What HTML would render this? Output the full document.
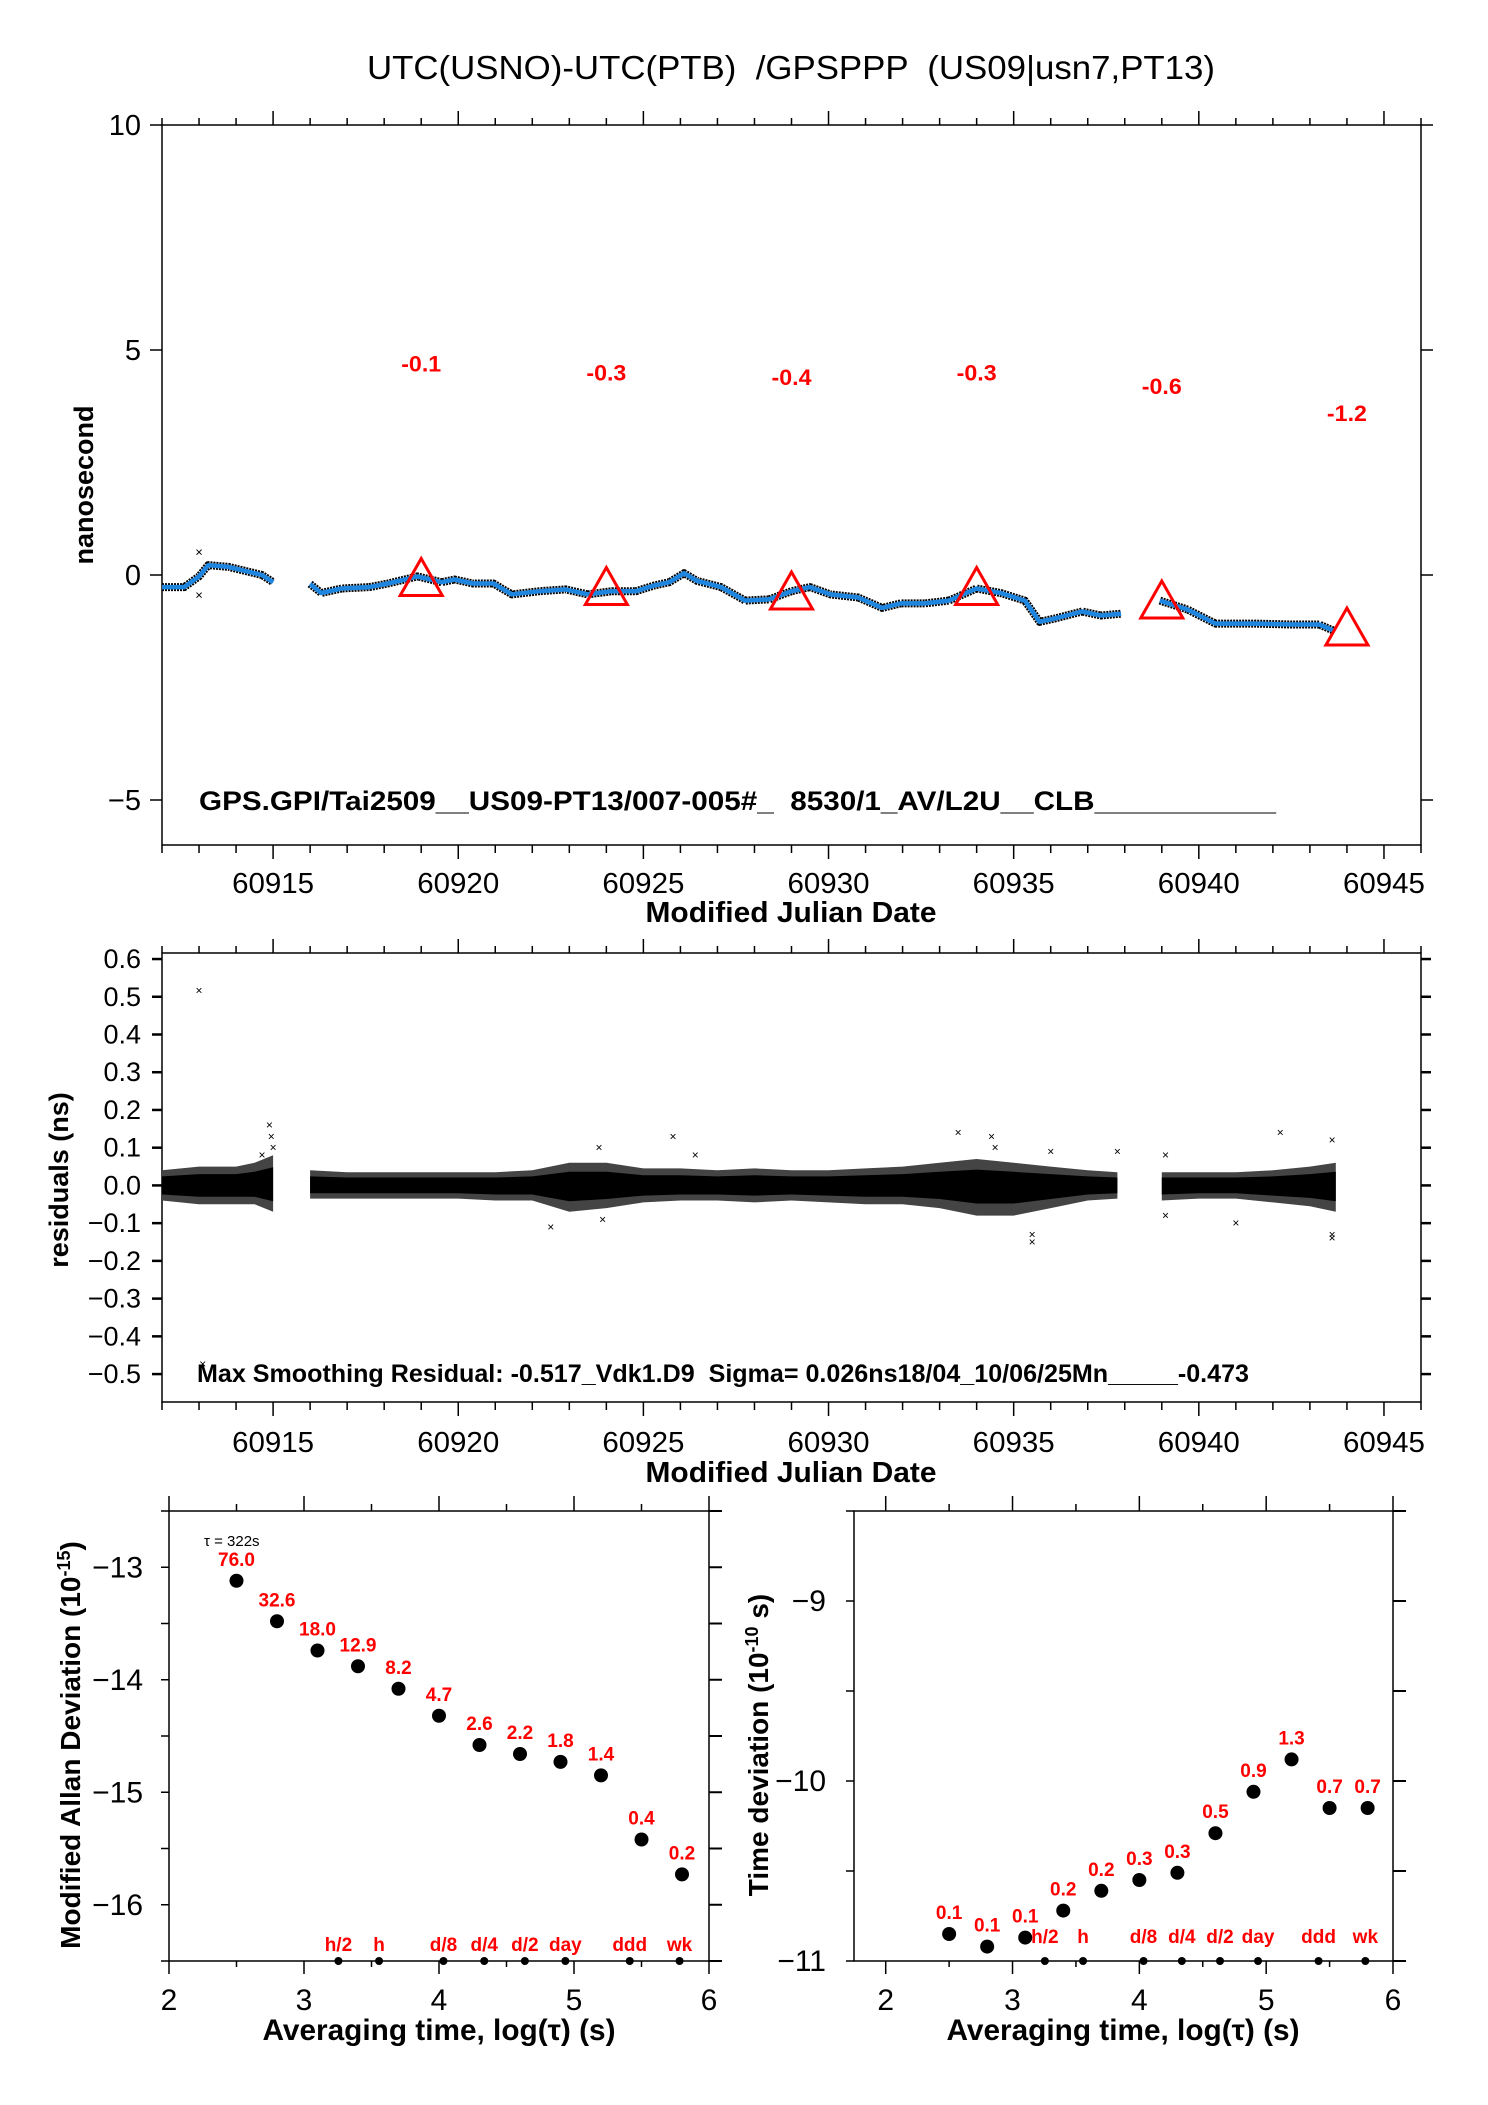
<!DOCTYPE html>
<html><head><meta charset="utf-8"><style>
html,body{margin:0;padding:0;background:#fff;}
svg{display:block;}
text{font-family:"Liberation Sans",sans-serif;}
</style></head>
<body>
<svg id="chart" width="1488" height="2105" viewBox="0 0 1488 2105" xmlns="http://www.w3.org/2000/svg">
<text x="791" y="79" font-size="33" text-anchor="middle" textLength="848" lengthAdjust="spacingAndGlyphs" style="white-space:pre">UTC(USNO)-UTC(PTB)  /GPSPPP  (US09|usn7,PT13)</text>
</svg>
<script>
// ---------- data ----------
const offMjd = [60912.0,60912.6,60913.0,60913.25,60913.8,60914.3,60914.7,60915.0,null,60916.0,60916.3,60916.85,60917.6,60918.1,60918.9,60919.55,60919.9,60920.4,60920.95,60921.45,60922.2,60922.9,60923.5,60924.15,60924.8,60925.3,60925.7,60926.1,60926.45,60927.1,60927.75,60928.4,60929.0,60929.5,60930.05,60930.8,60931.45,60931.95,60932.6,60933.25,60934.0,60934.65,60935.3,60935.7,60936.1,60936.85,60937.35,60937.9,null,60938.95,60939.7,60940.45,60941.5,60942.5,60943.25,60943.65];
const offNs = [-0.27,-0.27,-0.03,0.22,0.18,0.08,0.0,-0.16,null,-0.2,-0.4,-0.3,-0.27,-0.19,-0.03,-0.16,-0.1,-0.19,-0.19,-0.43,-0.36,-0.32,-0.43,-0.36,-0.36,-0.23,-0.16,0.04,-0.13,-0.27,-0.57,-0.54,-0.36,-0.27,-0.43,-0.5,-0.73,-0.63,-0.63,-0.57,-0.3,-0.4,-0.57,-1.04,-0.97,-0.81,-0.9,-0.86,null,-0.57,-0.77,-1.08,-1.08,-1.1,-1.1,-1.24];
const triMjd = [60919,60924,60929,60934,60939,60944];
const triVal = [-0.1,-0.3,-0.4,-0.3,-0.6,-1.2];
const triLabel = ["-0.1","-0.3","-0.4","-0.3","-0.6","-1.2"];
const resDay = [60912.0,60913.0,60914.0,60914.5,60915.0,null,60916.0,60917,60918,60919,60920,60921,60922,60923,60924,60925,60926,60927,60928,60929,60930,60931,60932,60933,60934,60935,60936,60937,60937.8,null,60939,60940,60941,60942,60943,60943.7];
const resHi = [0.04,0.05,0.05,0.06,0.08,null,0.04,0.035,0.035,0.035,0.035,0.035,0.04,0.06,0.06,0.045,0.045,0.04,0.045,0.04,0.04,0.045,0.05,0.06,0.07,0.06,0.05,0.04,0.035,null,0.035,0.035,0.035,0.04,0.05,0.06];
const resLo = [-0.04,-0.05,-0.05,-0.05,-0.07,null,-0.035,-0.035,-0.035,-0.035,-0.035,-0.04,-0.04,-0.07,-0.06,-0.045,-0.04,-0.04,-0.045,-0.04,-0.045,-0.05,-0.05,-0.06,-0.08,-0.08,-0.06,-0.04,-0.035,null,-0.04,-0.035,-0.035,-0.045,-0.055,-0.07];
const outMjd = [60913.0,60913.1,60914.7,60914.9,60914.95,60915.0,60922.5,60923.8,60923.9,60925.8,60926.4,60933.5,60934.4,60934.5,60935.5,60935.5,60936.0,60937.8,60939.1,60939.1,60941.0,60942.2,60943.6,60943.6,60943.6];
const outVal = [0.517,-0.473,0.08,0.16,0.13,0.1,-0.11,0.1,-0.09,0.13,0.08,0.14,0.13,0.1,-0.13,-0.15,0.09,0.09,0.08,-0.08,-0.1,0.14,-0.13,-0.14,0.12];
const mjdTicks = [60915,60920,60925,60930,60935,60940,60945];
const offTicks = [10,5,0,-5];
const resTicks = [0.6,0.5,0.4,0.3,0.2,0.1,0.0,-0.1,-0.2,-0.3,-0.4,-0.5];
const logTau = [2.5,2.8,3.1,3.4,3.7,4.0,4.3,4.6,4.9,5.2,5.5,5.8];
const madevLog = [-13.12,-13.48,-13.74,-13.88,-14.08,-14.32,-14.58,-14.66,-14.73,-14.85,-15.42,-15.73];
const madevLabel = ["76.0","32.6","18.0","12.9","8.2","4.7","2.6","2.2","1.8","1.4","0.4","0.2"];
const tdevLog = [-10.85,-10.92,-10.87,-10.72,-10.61,-10.55,-10.51,-10.29,-10.06,-9.88,-10.15,-10.15];
const tdevLabel = ["0.1","0.1","0.1","0.2","0.2","0.3","0.3","0.5","0.9","1.3","0.7","0.7"];
const markTau = [3.255,3.556,4.033,4.335,4.636,4.936,5.413,5.782];
const markName = ["h/2","h","d/8","d/4","d/2","day","ddd","wk"];
const logTicks = [2,3,4,5,6];
const madevTicks = [-13,-14,-15,-16];
const tdevTicks = [-9,-10,-11];

// ---------- helpers ----------
const svg = document.getElementById('chart');
const NS = 'http://www.w3.org/2000/svg';
function mk(tag, attrs, parent){
  const e = document.createElementNS(NS, tag);
  for (const k in attrs) e.setAttribute(k, attrs[k]);
  (parent||svg).appendChild(e);
  return e;
}
function txt(x,y,s,size,opts,parent){
  const e = mk('text', Object.assign({x:x,y:y,'font-size':size}, opts||{}), parent);
  e.textContent = s;
  return e;
}
function scale(d0,d1,p0,p1){ return v => p0 + (v-d0)/(d1-d0)*(p1-p0); }
function frame(g,L,T,R,B){
  const r = mk('rect',{x:L,y:T,width:R-L,height:B-T,fill:'none',stroke:'#000','stroke-width':1.5},g);
  
  
}
function tick(g,x1,y1,x2,y2,w){
  mk('line',{x1:x1,y1:y1,x2:x2,y2:y2,stroke:'#000','stroke-width':w||1.5},g);
}
const L0=162, R0=1421;

// ---------- panel 1: offsets ----------
(function(){
  const L=L0,R=R0,T=125,B=845;
  const x = scale(60912,60946,L,R), y = scale(-6,10,B,T);
  const g = mk('g',{});
  
  
  frame(g,L,T,R,B);
  for (let d=60912; d<=60946; d++){
    const maj = mjdTicks.includes(d);
    tick(g,x(d),T,x(d),T-(maj?14:7));
    tick(g,x(d),B,x(d),B+(maj?14:8));
  }
  mjdTicks.forEach(v=>{
    const t = txt(x(v),893,String(v),29,{'text-anchor':'middle',textLength:82,lengthAdjust:'spacingAndGlyphs'},g);
    
    
  });
  offTicks.forEach(v=>{
    tick(g,L-12,y(v),L,y(v)); tick(g,R,y(v),R+12,y(v));
    const t = txt(141,y(v)+10,v<0?'\u2212'+(-v):String(v),29,{'text-anchor':'end'},g);
    
    
  });
  const xt = txt(791,922,'Modified Julian Date',29,{'text-anchor':'middle','font-weight':'bold',textLength:291,lengthAdjust:'spacingAndGlyphs'},g);
  
  
  const yt = txt(0,0,'nanosecond',27,{'text-anchor':'middle','font-weight':'bold',transform:'translate(93,485) rotate(-90)'},g);
  
  
  let segs=[[]];
  offMjd.forEach((m,i)=>{ if(m===null){segs.push([]);} else segs[segs.length-1].push([x(m),y(offNs[i])]); });
  segs.forEach(s=>{
    const d = s.map((p,i)=>(i?'L':'M')+p[0].toFixed(1)+','+p[1].toFixed(1)).join('');
    const bk = mk('path',{d:d,fill:'none',stroke:'#000','stroke-width':8,'stroke-linejoin':'round','stroke-dasharray':'2 1'},g);
    
    
    const bl = mk('path',{d:d,fill:'none',stroke:'#1f86e0','stroke-width':4.5,'stroke-linejoin':'round'},g);
    
    
  });
  [[60913.0,0.5],[60913.0,-0.45]].forEach(p=>{
    const c = txt(x(p[0]),y(p[1])+4,'×',13,{'text-anchor':'middle'},g);
    
    
  });
  triMjd.forEach((m,i)=>{
    const cx=x(m), cy=y(triVal[i]);
    const p = mk('polygon',{points:`${cx},${cy-21} ${cx-21},${cy+16} ${cx+21},${cy+16}`,fill:'none',stroke:'#f00','stroke-width':3},g);
    
    
    const t = txt(cx,y(4.8+triVal[i])+8,triLabel[i],22,{'text-anchor':'middle','font-weight':'bold',fill:'#f00',textLength:40,lengthAdjust:'spacingAndGlyphs'},g);
    
    
  });
  const info = txt(199,810,'GPS.GPI/Tai2509__US09-PT13/007-005#_  8530/1_AV/L2U__CLB___________',27,{'font-weight':'bold',textLength:1077,lengthAdjust:'spacingAndGlyphs',style:'white-space:pre'},g);
  
  
})();

// ---------- panel 2: residuals ----------
(function(){
  const L=L0,R=R0,T=953,B=1402;
  const x = scale(60912,60946,L,R), y = scale(-0.574,0.616,B,T);
  const g = mk('g',{});
  
  
  frame(g,L,T,R,B);
  for (let d=60912; d<=60946; d++){
    const maj = mjdTicks.includes(d);
    tick(g,x(d),T,x(d),T-(maj?14:7));
    tick(g,x(d),B,x(d),B+(maj?14:8));
  }
  mjdTicks.forEach(v=>{
    const t = txt(x(v),1452,String(v),29,{'text-anchor':'middle',textLength:82,lengthAdjust:'spacingAndGlyphs'},g);
    
    
  });
  resTicks.forEach(v=>{
    tick(g,L-10,y(v),L,y(v),2.5); tick(g,R,y(v),R+10,y(v),2.5);
    const s = v<0?'\u2212'+(-v).toFixed(1):v.toFixed(1);
    const t = txt(141,y(v)+9,s,27,{'text-anchor':'end'},g);
    
    
  });
  const xt = txt(791,1482,'Modified Julian Date',29,{'text-anchor':'middle','font-weight':'bold',textLength:291,lengthAdjust:'spacingAndGlyphs'},g);
  
  
  const yt = txt(0,0,'residuals (ns)',27,{'text-anchor':'middle','font-weight':'bold',transform:'translate(68,1180) rotate(-90)'},g);
  
  
  let segs=[[]];
  resDay.forEach((m,i)=>{ if(m===null){segs.push([]);} else segs[segs.length-1].push(i); });
  segs.forEach(s=>{
    const up = s.map(i=>x(resDay[i]).toFixed(1)+','+y(resHi[i]).toFixed(1));
    const dn = s.slice().reverse().map(i=>x(resDay[i]).toFixed(1)+','+y(resLo[i]).toFixed(1));
    const outer = mk('polygon',{points:up.concat(dn).join(' '),fill:'#444'},g);
    
    
    const up2 = s.map(i=>x(resDay[i]).toFixed(1)+','+y(resHi[i]*0.6).toFixed(1));
    const dn2 = s.slice().reverse().map(i=>x(resDay[i]).toFixed(1)+','+y(resLo[i]*0.6).toFixed(1));
    const inner = mk('polygon',{points:up2.concat(dn2).join(' '),fill:'#000'},g);
    
    
  });
  outMjd.forEach((m,i)=>{
    const c = txt(x(m),y(outVal[i])+4,'×',12,{'text-anchor':'middle'},g);
    
    
  });
  const info = txt(197,1382,'Max Smoothing Residual: -0.517_Vdk1.D9  Sigma= 0.026ns18/04_10/06/25Mn_____-0.473',25,{'font-weight':'bold',textLength:1052,lengthAdjust:'spacingAndGlyphs',style:'white-space:pre'},g);
  
  
})();

// ---------- stability panels ----------
function stabPanel(opt){
  const {L,R,T,B,xmin,y0,y1,vals,labels,ticks,name,yTitle,yTitleX,yLabelX,labelY,tau,titleX} = opt;
  const x = scale(xmin,6,L,R), y = scale(y0,y1,B,T);
  const g = mk('g',{});
  
  
  frame(g,L,T,R,B);
  for (let v=2; v<=6; v+=0.5){
    const maj = Number.isInteger(v);
    tick(g,x(v),T,x(v),T-(maj?15:7));
    tick(g,x(v),B,x(v),B+(maj?13:6));
  }
  logTicks.forEach(v=>{
    const t = txt(x(v),2010,String(v),30,{'text-anchor':'middle'},g);
    
    
  });
  for (let v=y0; v<=y1+1e-9; v+=0.5){
    tick(g,L-8,y(v),L,y(v));
    tick(g,R,y(v),R+13,y(v),2);
  }
  ticks.forEach(v=>{
    const t = txt(yLabelX,y(v)+10,'\u2212'+(-v),30,{'text-anchor':'end'},g);
    
    
  });
  const xt = txt(titleX,2040,'Averaging time, log(\u03c4) (s)',30,{'text-anchor':'middle','font-weight':'bold',textLength:353,lengthAdjust:'spacingAndGlyphs'},g);
  
  
  const yt = mk('text',{x:0,y:0,'font-size':28,'text-anchor':'middle','font-weight':'bold',transform:`translate(${yTitleX},1745) rotate(-90)`},g);
  yt.innerHTML = yTitle;
  
  
  logTau.forEach((v,i)=>{
    const c = mk('circle',{cx:x(v),cy:y(vals[i]),r:7,fill:'#000'},g);
    
    
    const t = txt(x(v),y(vals[i])-15,labels[i],19,{'text-anchor':'middle','font-weight':'bold',fill:'#f00'},g);
    
    
  });
  markTau.forEach((v,i)=>{
    const c = mk('circle',{cx:x(v),cy:B,r:4,fill:'#000'},g);
    
    
    const t = txt(x(v),labelY,markName[i],19,{'text-anchor':'middle','font-weight':'bold',fill:'#f00'},g);
    
    
  });
  if (tau){
    const t = txt(204,1546,'\u03c4 = 322s',15,{},g);
    
    
  }
}
stabPanel({L:169,R:709,T:1511,B:1961,xmin:2,y0:-16.5,y1:-12.5,vals:madevLog,labels:madevLabel,ticks:madevTicks,name:'mdev-panel',yTitle:'Modified Allan Deviation (10<tspan dy="-10" font-size="18">-15</tspan><tspan dy="10">)</tspan>',yTitleX:80,yLabelX:143,labelY:1951,tau:true,titleX:439});
stabPanel({L:854,R:1393,T:1511,B:1961,xmin:1.75,y0:-11,y1:-8.5,vals:tdevLog,labels:tdevLabel,ticks:tdevTicks,name:'tdev-panel',yTitle:'Time deviation (10<tspan dy="-10" font-size="18">-10</tspan><tspan dy="10"> s)</tspan>',yTitleX:768,yLabelX:826,labelY:1943,tau:false,titleX:1123});
</script>
</body></html>
